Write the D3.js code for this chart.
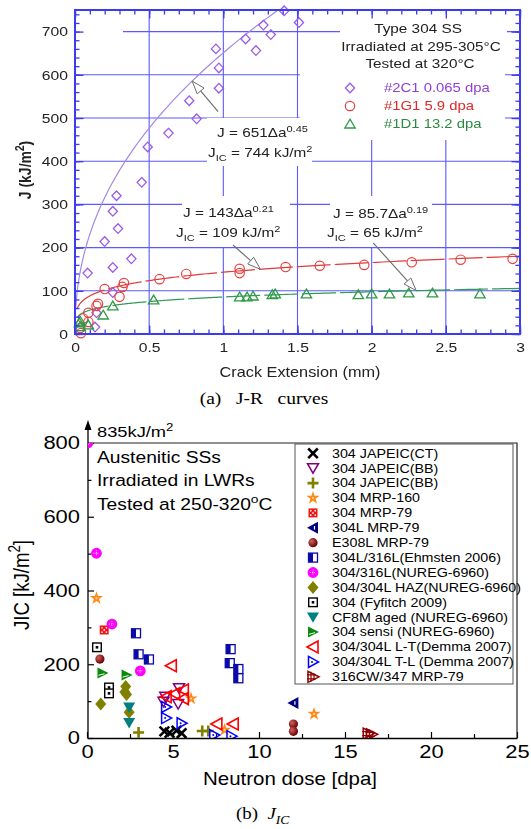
<!DOCTYPE html>
<html>
<head>
<meta charset="utf-8">
<script src="https://cdn.jsdelivr.net/npm/d3@7"></script>
<style>
  html, body { margin: 0; padding: 0; background: #fff; }
  svg { display: block; }
</style>
</head>
<body>
<svg id="fig" width="531" height="829"></svg>
<script>
// ---------------- Panel (a): J-R curves of Type 304 SS ----------------
// crack extension (mm), J (kJ/m^2)
const jr2C1 = [[0.135,16],[0.145,49],[0.085,141],[0.255,96],[0.255,154],[0.38,174],[0.20,214],
  [0.29,244],[0.255,284],[0.28,320],[0.45,351],[0.49,433],[0.63,465],[0.82,498],[0.77,540],
  [0.97,569],[0.97,616],[0.95,660],[1.15,683],[1.22,656],[1.27,715],[1.32,693],[1.41,748],[1.51,721]];
const jr1G1 = [[0.04,2],[0.035,14],[0.055,36],[0.09,28],[0.09,49],[0.145,65],[0.155,70],[0.2,104],
  [0.3,86],[0.32,109],[0.33,118],[0.57,127],[0.75,139],[1.11,151],[1.11,141],[1.42,155],[1.65,158],
  [1.95,160],[2.27,166],[2.6,172],[2.95,174]];
const jr1D1 = [[0.035,17],[0.03,26],[0.035,30],[0.09,21],[0.19,44],[0.255,65],[0.53,79],[1.11,86],
  [1.16,86],[1.2,88],[1.33,91],[1.35,93],[1.56,93],[1.91,91],[2.0,93],[2.12,93],[2.25,95],[2.41,95],[2.73,93]];
// power-law fits J = C * da^n and the quoted J_IC values
const fitC = [651, 143, 85.7];
const fitN = [0.45, 0.21, 0.19];
const fitJIC = [744, 109, 65];
const specimenLabels = ["#2C1 0.065 dpa", "#1G1 5.9 dpa", "#1D1 13.2 dpa"];
const crackTicks = [0, 0.5, 1, 1.5, 2, 2.5, 3];
const jTicks = [0, 100, 200, 300, 400, 500, 600, 700];

// ---------------- Panel (b): J_IC vs neutron dose ----------------
// dose (dpa), J_IC (kJ/m^2)
const japeicCT   = [[4.5,18],[4.8,14],[5.2,20],[5.5,13]];
const japeicBBv  = [[4.55,112],[4.45,98],[5.35,135],[5.3,92]];
const japeicBBp  = [[3.0,15],[6.7,19],[7.05,19]];
const mrp160     = [[0.55,379],[6.05,107],[8.0,22],[13.2,65]];
const mrp79      = [[1.0,293]];
const l304Mrp79  = [[12.0,95]];
const e308Mrp79  = [[0.75,214],[12.0,38],[12.0,18]];
const ehmsten    = [[2.85,284],[3.0,227],[3.6,213],[8.35,241],[8.3,203],[8.8,187],[8.8,162]];
const nureg316   = [[0.05,835],[0.55,501],[1.45,309],[3.1,182]];
const nuregHAZ   = [[0.8,92],[2.25,140],[2.2,125],[2.3,118],[2.45,70]];
const fyfitch    = [[0.58,246],[1.28,137],[1.28,121]];
const cf8mAged   = [[2.45,83],[2.45,41]];
const sensi      = [[0.9,176],[2.3,171]];
const demmaLT    = [[4.9,196],[4.6,112],[5.1,120],[5.6,130],[5.6,107],[7.55,38],[8.5,38]];
const demmaTL    = [[4.6,84],[4.6,54],[5.5,40],[7.4,8],[8.4,5]];
const cw347      = [[16.35,12],[16.55,10]];
const doseTicks = [0, 5, 10, 15, 20, 25];
const jicTicks = [0, 200, 400, 600, 800];
const legendLabels = ["304 JAPEIC(CT)","304 JAPEIC(BB)","304 JAPEIC(BB)","304 MRP-160","304 MRP-79",
  "304L MRP-79","E308L MRP-79","304L/316L(Ehmsten 2006)","304/316L(NUREG-6960)","304/304L HAZ(NUREG-6960)",
  "304 (Fyfitch 2009)","CF8M aged (NUREG-6960)","304 sensi (NUREG-6960)","304/304L L-T(Demma 2007)",
  "304/304L T-L (Demma 2007)","316CW/347 MRP-79"];

const FONT = "'Liberation Sans', Arial, sans-serif";
const SERIF = "'Liberation Serif', 'Times New Roman', serif";
const S = 1.18; // horizontal glyph stretch

const svg = d3.select("#fig");
const defs = svg.append("defs");
defs.append("filter").attr("id", "soft").append("feGaussianBlur").attr("stdDeviation", 0.3);

// text helper: parts = [[string, "sup"|"sub"|undefined, italic?], ...]
function label(g, x, y, parts, o) {
  if (typeof parts === "string") parts = [[parts]];
  const sx = o.sx || S;
  const t = g.append("text")
    .attr("transform", `translate(${x},${y}) scale(${sx},1)` + (o.rotate ? ` rotate(${o.rotate})` : ""))
    .attr("text-anchor", o.anchor || "start")
    .attr("font-family", o.family || FONT)
    .attr("font-size", o.size)
    .attr("fill", o.fill || "#000")
    .style("white-space", "pre");
  if (o.weight) t.attr("font-weight", o.weight);
  if (o.italic) t.attr("font-style", "italic");
  let shift = 0;
  parts.forEach(([s, k, it]) => {
    const target = k === "sup" ? -0.4 * o.size : k === "sub" ? 0.3 * o.size : 0;
    const ts = t.append("tspan").text(s).attr("dy", target - shift);
    if (k) ts.attr("font-size", o.size * 0.72);
    if (it) ts.attr("font-style", "italic");
    shift = target;
  });
  return t;
}

// ======================= Panel (a) =======================
const A = { l: 75, r: 520, t: 10, b: 334 };
const xA = d3.scaleLinear().domain([0, 3]).range([A.l, A.r]);
const yA = d3.scaleLinear().domain([0, 750]).range([A.b, A.t]);
const gA = svg.append("g").attr("filter", "url(#soft)");
const BLUE = "#3a3af0", GRID = "#5a5aff";

defs.append("clipPath").attr("id", "clipA").append("rect")
  .attr("x", A.l).attr("y", A.t).attr("width", A.r - A.l).attr("height", A.b - A.t);

// grid
gA.append("g").selectAll("line").data(crackTicks.slice(1, -1)).join("line")
  .attr("x1", d => xA(d)).attr("x2", d => xA(d)).attr("y1", A.t).attr("y2", A.b)
  .attr("stroke", GRID).attr("stroke-width", 1.1);
gA.append("g").selectAll("line").data(jTicks.slice(1)).join("line")
  .attr("y1", d => yA(d)).attr("y2", d => yA(d)).attr("x1", A.l).attr("x2", A.r)
  .attr("stroke", GRID).attr("stroke-width", 1.1);

// white backgrounds behind the annotation blocks
const textBoxes = [[76,12,123,45],[340,11,507,70],[300,70,505,140],[207,118,312,166],[182,196,290,247],[330,196,432,247]];
gA.append("g").selectAll("rect").data(textBoxes).join("rect")
  .attr("x", d => d[0]).attr("y", d => d[1]).attr("width", d => d[2] - d[0]).attr("height", d => d[3] - d[1])
  .attr("fill", "#fff");

// fitted curves
const fitColors = ["#a688e6", "#e23a3a", "#2f9a55"];
const fitStart = [0.005, 0.015, 0.015];
const fitEnd = [1.45, 3, 3];
const curveLine = d3.line().x(d => xA(d[0])).y(d => yA(d[1]));
fitC.forEach((C, i) => {
  const n = fitN[i];
  const pts = d3.range(0, 301).map(k => {
    const a = fitStart[i] * Math.pow(fitEnd[i] / fitStart[i], k / 300);
    return [a, C * Math.pow(a, n)];
  });
  gA.append("path").datum(pts).attr("d", curveLine)
    .attr("clip-path", "url(#clipA)")
    .attr("fill", "none").attr("stroke", fitColors[i]).attr("stroke-width", 1.2)
    .attr("stroke-dasharray", i === 0 ? null : "34,4");
});

// annotation arrows pointing at the fitted curves
function arrow(g, x0, y0, x1, y1) {
  const dx = x1 - x0, dy = y1 - y0, L = Math.hypot(dx, dy), ux = dx / L, uy = dy / L;
  const hl = 13, hw = 4.5, bx = x1 - ux * hl, by = y1 - uy * hl;
  g.append("line").attr("x1", x0).attr("y1", y0).attr("x2", bx).attr("y2", by)
    .attr("stroke", "#6a6a6a").attr("stroke-width", 1.1);
  g.append("path")
    .attr("d", `M${x1},${y1}L${bx - uy * hw},${by + ux * hw}L${bx + uy * hw},${by - ux * hw}Z`)
    .attr("fill", "#fff").attr("stroke", "#6a6a6a").attr("stroke-width", 1);
}
const arrowFrom = [[0.965, 515], [1.065, 206], [2.01, 211]];
const arrowTipX = [0.79, 1.25, 2.3];
arrowFrom.forEach((p, i) => {
  const tx = arrowTipX[i], ty = fitC[i] * Math.pow(tx, fitN[i]);
  arrow(gA, xA(p[0]), yA(p[1]), xA(tx), yA(ty));
});

// markers
const markA = {
  diamond: g => g.append("path").attr("d", "M0,-4.8L4.6,0L0,4.8L-4.6,0Z")
    .attr("fill", "none").attr("stroke", "#9a5ae6").attr("stroke-width", 1.3),
  circle: g => g.append("circle").attr("r", 4.7)
    .attr("fill", "none").attr("stroke", "#e84040").attr("stroke-width", 1.2),
  triangle: g => g.append("path").attr("d", "M0,-4.8L5.2,4L-5.2,4Z")
    .attr("fill", "none").attr("stroke", "#2f9a45").attr("stroke-width", 1.3)
};
const seriesA = [[jr2C1, "diamond"], [jr1G1, "circle"], [jr1D1, "triangle"]];
seriesA.forEach(([data, m]) => {
  const g = gA.append("g");
  data.forEach(d => markA[m](g.append("g").attr("transform", `translate(${xA(d[0])},${yA(d[1])})`)));
});

// axes: inward major + minor ticks on all four sides
function ticksOnly(axis, vals, size) {
  return axis.tickValues(vals).tickSizeInner(size).tickSizeOuter(0).tickFormat("");
}
const minorX = d3.range(0, 31).map(k => k / 10);
const minorY = d3.range(0, 38).map(k => k * 20);
const axStyle = sel => {
  sel.select(".domain").remove();
  sel.selectAll("line").attr("stroke", BLUE).attr("stroke-width", 1.3);
};
gA.append("g").attr("transform", `translate(0,${A.b})`).call(ticksOnly(d3.axisBottom(xA), minorX, -4.5)).call(axStyle);
gA.append("g").attr("transform", `translate(0,${A.t})`).call(ticksOnly(d3.axisTop(xA), minorX, -4.5)).call(axStyle);
gA.append("g").attr("transform", `translate(0,${A.t})`).call(ticksOnly(d3.axisTop(xA), crackTicks, -8.5)).call(axStyle);
gA.append("g").attr("transform", `translate(${A.l},0)`).call(ticksOnly(d3.axisLeft(yA), minorY, -4.5)).call(axStyle);
gA.append("g").attr("transform", `translate(${A.r},0)`).call(ticksOnly(d3.axisRight(yA), minorY, -4.5)).call(axStyle);
gA.append("g").attr("transform", `translate(${A.r},0)`).call(ticksOnly(d3.axisRight(yA), jTicks, -8.5)).call(axStyle);

const axA_x = gA.append("g").attr("transform", `translate(0,${A.b})`)
  .call(d3.axisBottom(xA).tickValues(crackTicks).tickSizeInner(-8.5).tickSizeOuter(0).tickPadding(9).tickFormat(d3.format("~g")))
  .call(axStyle);
axA_x.selectAll("text").attr("font-family", FONT).attr("font-size", 13.3).attr("fill", "#222")
  .attr("transform", `scale(${S},1)`);
const axA_y = gA.append("g").attr("transform", `translate(${A.l},0)`)
  .call(d3.axisLeft(yA).tickValues(jTicks).tickSizeInner(-8.5).tickSizeOuter(0).tickPadding(7 / S))
  .call(axStyle);
axA_y.selectAll("text").attr("font-family", FONT).attr("font-size", 13.3).attr("fill", "#222")
  .attr("transform", `scale(${S},1)`);

gA.append("rect").attr("x", A.l).attr("y", A.t).attr("width", A.r - A.l).attr("height", A.b - A.t)
  .attr("fill", "none").attr("stroke", BLUE).attr("stroke-width", 2);

// axis titles
label(gA, 31, 170, [["J (kJ/m"], ["2", "sup"], [")"]], { size: 14, anchor: "middle", rotate: -90, weight: "bold", fill: "#222" });
label(gA, 300, 377, "Crack Extension (mm)", { size: 13.8, anchor: "middle", fill: "#222" });

// fit annotations
const annPos = [[217, 137, 208, 157], [183, 217, 176, 237], [333, 218, 327, 237]];
fitC.forEach((C, i) => {
  const [x1, y1, x2, y2] = annPos[i];
  label(gA, x1, y1, [[`J = ${C}\u0394a`], [String(fitN[i]), "sup"]], { size: 13, fill: "#222" });
  label(gA, x2, y2, [["J"], ["IC", "sub"], [` = ${fitJIC[i]} kJ/m`], ["2", "sup"]], { size: 13, fill: "#222" });
});

// legend block
label(gA, 418, 33, "Type 304 SS", { size: 13, anchor: "middle", fill: "#222" });
label(gA, 421, 51, "Irradiated at 295-305\u00B0C", { size: 13, anchor: "middle", fill: "#222" });
label(gA, 420, 68, "Tested at 320\u00B0C", { size: 13, anchor: "middle", fill: "#222" });
const legTextCol = ["#9040d8", "#e02828", "#2a8a40"];
["diamond", "circle", "triangle"].forEach((m, i) => {
  markA[m](gA.append("g").attr("transform", `translate(350,${88 + i * 18})`));
  label(gA, 384, 92 + i * 18, specimenLabels[i], { size: 12.6, fill: legTextCol[i] });
});

// caption (a)
label(svg, 264, 404, [["(a)   J-R   curves"]], { size: 16.5, anchor: "middle", family: SERIF });

// ======================= Panel (b) =======================
const B = { l: 88, r: 517, t: 443, b: 738 };
const xB = d3.scaleLinear().domain([0, 25]).range([87, B.r]);
const yB = d3.scaleLinear().domain([0, 800]).range([B.b, B.t]).clamp(true);
const gB = svg.append("g");

defs.append("clipPath").attr("id", "clipB").append("rect")
  .attr("x", B.l).attr("y", B.t).attr("width", B.r - B.l).attr("height", B.b - B.t);
const grad = defs.append("radialGradient").attr("id", "sphereGrad").attr("cx", "35%").attr("cy", "35%").attr("r", "65%");
grad.append("stop").attr("offset", "0%").attr("stop-color", "#d06060");
grad.append("stop").attr("offset", "100%").attr("stop-color", "#6a0000");

const markB = {
  cross: g => g.append("path").attr("d", "M-4.8,-4.8L4.8,4.8M-4.8,4.8L4.8,-4.8")
    .attr("stroke", "#000").attr("stroke-width", 2.6).attr("fill", "none"),
  triDownOpen: g => g.append("path").attr("d", "M-5.5,-4.5L5.5,-4.5L0,5Z")
    .attr("stroke", "#800080").attr("stroke-width", 1.5).attr("fill", "none"),
  plus: g => g.append("path").attr("d", "M-5.5,0H5.5M0,-5.5V5.5")
    .attr("stroke", "#808000").attr("stroke-width", 2.6),
  star: g => {
    g.append("path").attr("d", d3.symbol(d3.symbolStar, 55)()).attr("fill", "#ff8a1a");
    g.append("circle").attr("r", 1.1).attr("fill", "#ffd7a0");
  },
  dice: g => {
    g.append("rect").attr("x", -4.5).attr("y", -4.5).attr("width", 9).attr("height", 9).attr("fill", "#f01414");
    [[-2.2,-2.2],[2.2,-2.2],[0,0],[-2.2,2.2],[2.2,2.2]].forEach(([a, b]) =>
      g.append("circle").attr("cx", a).attr("cy", b).attr("r", 0.85).attr("fill", "#fff"));
  },
  triLeftFilled: g => {
    g.append("path").attr("d", "M-6,0L5,-6L5,6Z").attr("fill", "#000080");
    g.append("path").attr("d", "M1.5,-1.8V1.8").attr("stroke", "#fff").attr("stroke-width", 1.2);
  },
  sphere: g => g.append("circle").attr("r", 4.6).attr("fill", "url(#sphereGrad)"),
  halfSquare: g => {
    g.append("rect").attr("x", -4.5).attr("y", -4.5).attr("width", 9).attr("height", 9)
      .attr("fill", "#fff").attr("stroke", "#0a0aa8").attr("stroke-width", 1.3);
    g.append("rect").attr("x", -4.5).attr("y", -4.5).attr("width", 4.5).attr("height", 9).attr("fill", "#0a0aa8");
  },
  circlePlus: g => {
    g.append("circle").attr("r", 5.4).attr("fill", "#ff00ff");
    g.append("path").attr("d", "M-3,0H3M0,-3V3").attr("stroke", "#fff").attr("stroke-width", 0.8)
      .attr("stroke-dasharray", "1,1");
  },
  diamond: g => g.append("path").attr("d", "M0,-6.5L5.5,0L0,6.5L-5.5,0Z").attr("fill", "#808000"),
  squareDot: g => {
    g.append("rect").attr("x", -4.3).attr("y", -4.3).attr("width", 8.6).attr("height", 8.6)
      .attr("fill", "#fff").attr("stroke", "#000").attr("stroke-width", 1.4);
    g.append("rect").attr("x", -1.3).attr("y", -1.3).attr("width", 2.6).attr("height", 2.6).attr("fill", "#000");
  },
  triDownFilled: g => g.append("path").attr("d", "M-6,-4.8L6,-4.8L0,5.5Z").attr("fill", "#008080"),
  triRightFilled: g => {
    g.append("path").attr("d", "M-5,-5.5L6,0L-5,5.5Z").attr("fill", "#0a8a0a");
    g.append("path").attr("d", "M-4,2.2L2,0.6").attr("stroke", "#fff").attr("stroke-width", 1);
  },
  triLeftOpen: g => g.append("path").attr("d", "M5,-6L-6,0L5,6Z")
    .attr("stroke", "#ff0000").attr("stroke-width", 1.6).attr("fill", "none"),
  triRightOpenDot: g => {
    g.append("path").attr("d", "M-4.5,-5.5L5.5,0L-4.5,5.5Z")
      .attr("stroke", "#0000ff").attr("stroke-width", 1.5).attr("fill", "none");
    g.append("circle").attr("cx", -1).attr("r", 1).attr("fill", "#0000ff");
  },
  triRightHatch: g => {
    g.append("path").attr("d", "M-5,-5.5L6,0L-5,5.5Z")
      .attr("stroke", "#8b0000").attr("stroke-width", 1.5).attr("fill", "none");
    g.append("path").attr("d", "M-6,-2H3M-6,2H3M-2,-5V5M1,-3.5V3.5")
      .attr("stroke", "#8b0000").attr("stroke-width", 1.2);
  }
};
const seriesB = [
  [japeicCT, "cross"], [japeicBBv, "triDownOpen"], [japeicBBp, "plus"], [mrp160, "star"],
  [mrp79, "dice"], [l304Mrp79, "triLeftFilled"], [e308Mrp79, "sphere"], [ehmsten, "halfSquare"],
  [nureg316, "circlePlus"], [nuregHAZ, "diamond"], [fyfitch, "squareDot"], [cf8mAged, "triDownFilled"],
  [sensi, "triRightFilled"], [demmaLT, "triLeftOpen"], [demmaTL, "triRightOpenDot"], [cw347, "triRightHatch"]
];

// axes
const axBx = gB.append("g").attr("transform", `translate(0,${B.b})`)
  .call(d3.axisBottom(xB).tickValues(doseTicks).tickSizeInner(-6).tickSizeOuter(0).tickPadding(7));
axBx.selectAll("text").attr("font-family", FONT).attr("font-size", 18.6).attr("fill", "#000")
  .attr("transform", `scale(${S},1)`);
gB.append("g").attr("transform", `translate(0,${B.b})`)
  .call(ticksOnly(d3.axisBottom(xB), [2.5, 7.5, 12.5, 17.5, 22.5], -4)).select(".domain").remove();
const axBy = gB.append("g").attr("transform", `translate(${B.l},0)`)
  .call(d3.axisLeft(yB).tickValues(jicTicks).tickSizeInner(-6).tickSizeOuter(0).tickPadding(8 / S));
axBy.selectAll("text").attr("font-family", FONT).attr("font-size", 18.6).attr("fill", "#000")
  .attr("transform", `scale(${S},1)`);
axBy.select(".domain").remove();
gB.append("g").attr("transform", `translate(${B.l},0)`)
  .call(ticksOnly(d3.axisLeft(yB), [100, 300, 500, 700], -3.5)).select(".domain").remove();
gB.selectAll("line").attr("stroke", "#000").attr("stroke-width", 1.2);
axBx.select(".domain").attr("stroke", "#000").attr("stroke-width", 1.3);

// frame: top and right edges, y-axis with arrow past 800
gB.append("path").attr("d", `M${B.l},${B.t}H${B.r}V${B.b}`).attr("fill", "none").attr("stroke", "#222").attr("stroke-width", 1.2);
gB.append("line").attr("x1", B.l).attr("x2", B.l).attr("y1", B.b).attr("y2", 428).attr("stroke", "#000").attr("stroke-width", 1.3);
gB.append("path").attr("d", `M${B.l},420L${B.l - 3.5},430L${B.l + 3.5},430Z`).attr("fill", "#000");
label(gB, 97, 437, [["835kJ/m"], ["2", "sup"]], { size: 15.5 });

// legend
gB.append("rect").attr("x", 295).attr("y", 444).attr("width", 218).attr("height", 240)
  .attr("fill", "#fff").attr("stroke", "#555").attr("stroke-width", 1);
seriesB.forEach(([, m], i) => {
  const cy = 453.3 + i * 14.9;
  markB[m](gB.append("g").attr("transform", `translate(313,${cy})`));
  label(gB, 332, cy + 4.3, legendLabels[i], { size: 12.1 });
});

// data points
const ptsB = gB.append("g").attr("clip-path", "url(#clipB)");
seriesB.forEach(([data, m]) => {
  data.forEach(d => markB[m](ptsB.append("g").attr("transform", `translate(${xB(d[0])},${yB(d[1])})`)));
});

// annotation text
label(gB, 97, 463, "Austenitic SSs", { size: 16.3 });
label(gB, 97, 486, "Irradiated in LWRs", { size: 16.3 });
label(gB, 97, 510, [["Tested at 250-320"], ["o", "sup"], ["C"]], { size: 16.3 });

// axis titles
label(gB, 29, 585, [["JIC [kJ/m"], ["2", "sup"], ["]"]], { size: 18.6, anchor: "middle", rotate: -90 });
label(gB, 290, 785, "Neutron dose [dpa]", { size: 18.6, anchor: "middle", sx: 1.1 });

// caption (b)
label(svg, 236, 819, [["(b)  "], ["J", null, true], ["IC", "sub", true]], { size: 16, family: SERIF });
</script>
</body>
</html>
